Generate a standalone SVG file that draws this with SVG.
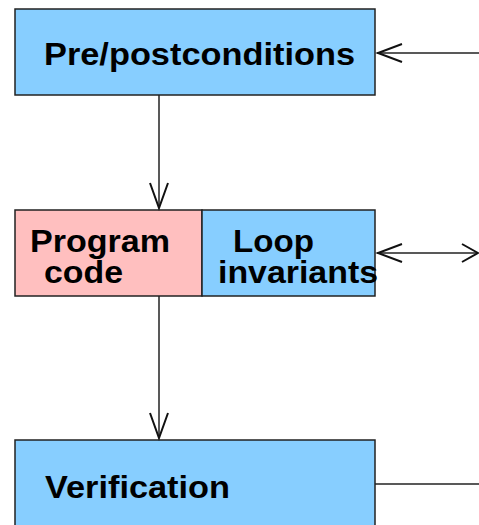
<svg xmlns="http://www.w3.org/2000/svg" width="479" height="525" viewBox="0 0 479 525">
  <style>
    .box { stroke: #222; stroke-width: 1.5; }
    .blue { fill: #87CEFF; }
    .pink { fill: #FFBFBF; }
    .lbl { font-family: "Liberation Sans", Arial, sans-serif; font-weight: bold; font-size: 31px; fill: #000; }
    .edge { stroke: #222; stroke-width: 1.5; fill: none; }
    .head { stroke: #111; stroke-width: 2; fill: none; }
  </style>
  <rect width="479" height="525" fill="#fff"/>

  <g id="prepost">
    <rect class="box blue" x="15" y="9" width="360" height="86"/>
    <text class="lbl" x="44" y="65" textLength="311" lengthAdjust="spacingAndGlyphs">Pre/postconditions</text>
  </g>

  <g id="program">
    <rect class="box pink" x="15" y="210" width="187" height="86"/>
    <text class="lbl" x="30" y="252" textLength="140" lengthAdjust="spacingAndGlyphs">Program</text>
    <text class="lbl" x="44" y="283" textLength="79" lengthAdjust="spacingAndGlyphs">code</text>
  </g>

  <g id="invariants">
    <rect class="box blue" x="202" y="210" width="173" height="86"/>
    <text class="lbl" x="233" y="252" textLength="81" lengthAdjust="spacingAndGlyphs">Loop</text>
    <text class="lbl" x="218" y="283" textLength="160" lengthAdjust="spacingAndGlyphs">invariants</text>
  </g>

  <g id="verification">
    <rect class="box blue" x="15" y="440" width="360" height="95"/>
    <text class="lbl" x="45" y="498" textLength="185" lengthAdjust="spacingAndGlyphs">Verification</text>
  </g>

  <g id="connectors">
    <line class="edge" x1="159" y1="95" x2="159" y2="208"/>
    <polyline class="head" points="150,183 159,208 168,183"/>

    <line class="edge" x1="159" y1="296" x2="159" y2="438"/>
    <polyline class="head" points="150,413 159,438 168,413"/>

    <line class="edge" x1="377" y1="53" x2="479" y2="53"/>
    <polyline class="head" points="402,44 378,53 402,62"/>

    <line class="edge" x1="377" y1="253" x2="478" y2="253"/>
    <polyline class="head" points="402,244 378,253 402,262"/>
    <polyline class="head" points="462,244 478,253 462,262"/>

    <line class="edge" x1="375" y1="484" x2="479" y2="484"/>
  </g>
</svg>
